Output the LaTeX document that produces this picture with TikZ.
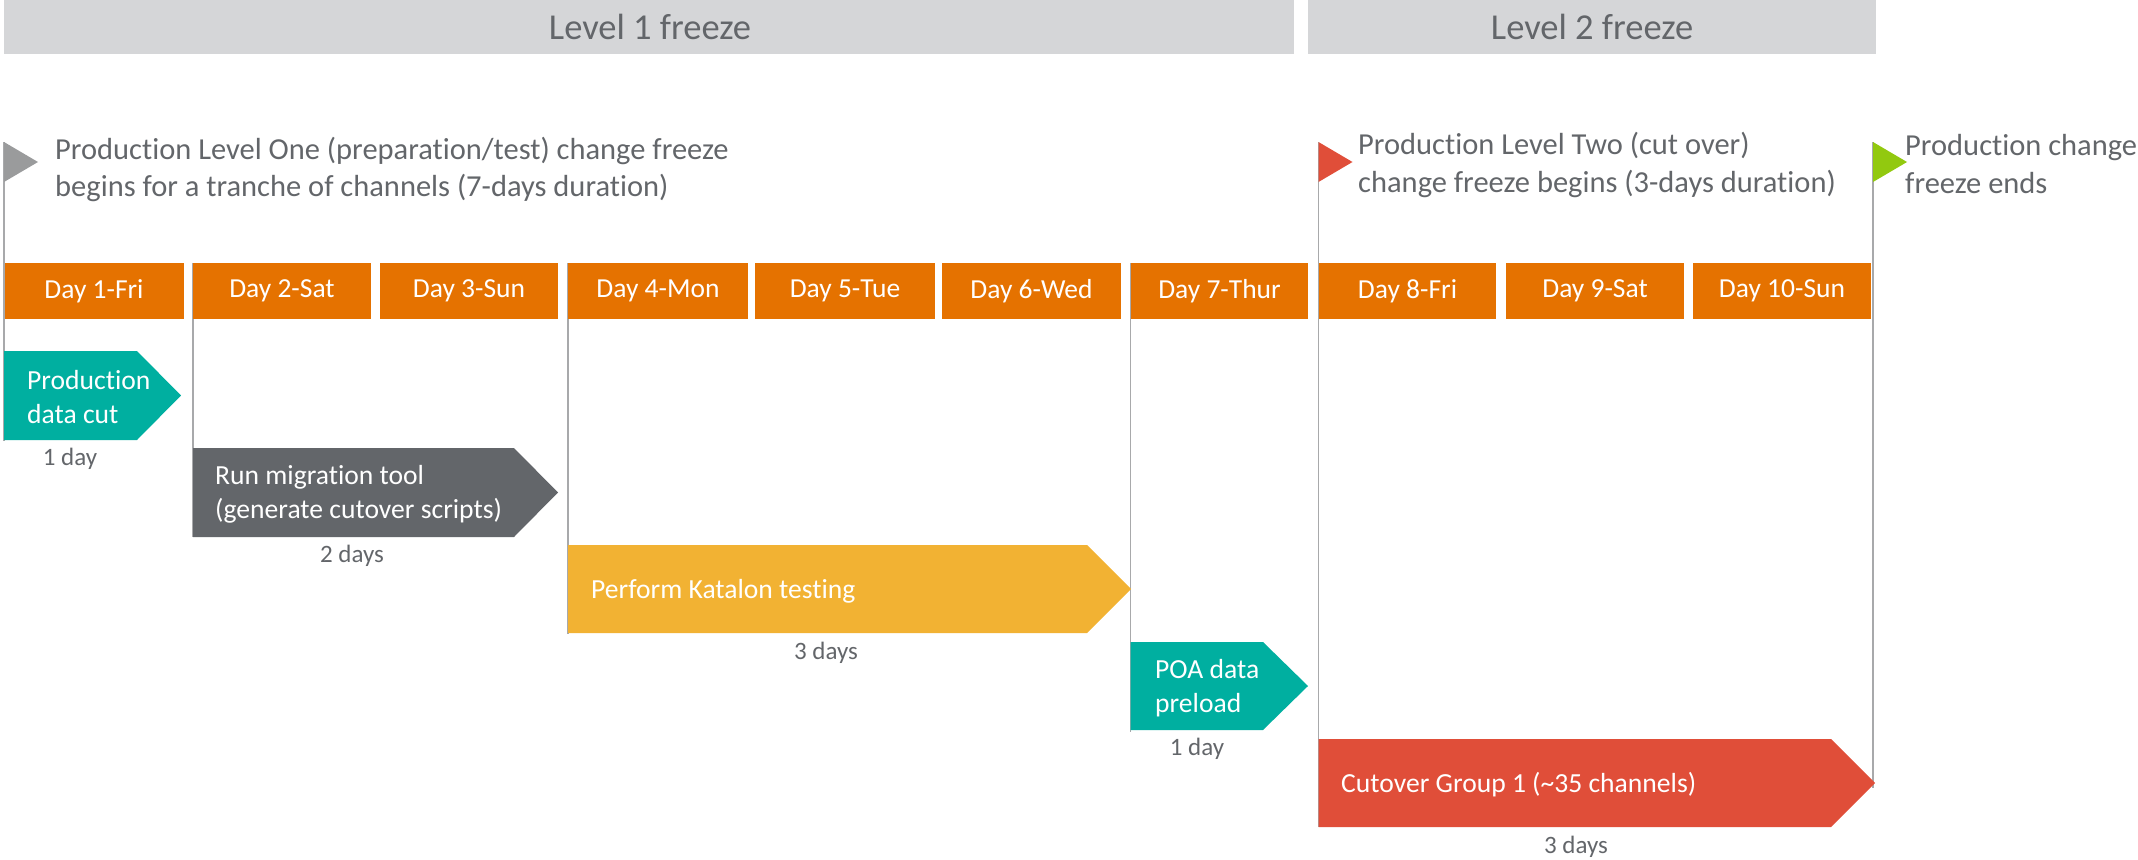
\documentclass[tikz,border=0pt]{standalone}
\usepackage{fontspec}
\setmainfont[Ligatures=CommonOff]{Carlito}
\definecolor{txt}{HTML}{63666A}
\definecolor{bar}{HTML}{D5D6D8}
\definecolor{orng}{HTML}{E57200}
\definecolor{teal2}{HTML}{00AFA0}
\definecolor{yell}{HTML}{F2B233}
\definecolor{redd}{HTML}{E04E39}
\definecolor{grn}{HTML}{92C90F}
\definecolor{flg}{HTML}{9A9B9C}
\definecolor{rule}{HTML}{A8A9AB}
\newcommand{\fs}[2]{\fontsize{#1}{#2}\selectfont}
\newcommand{\chev}[7]{% colour, x0, shoulder, tip, ytop, ybottom, name
  \fill[#1] (#2,#5) -- (#3,#5) -- (#4,{(#5+#6)/2}) -- (#3,#6) -- (#2,#6) -- cycle;
  \coordinate (#7) at (#2,#6);}
\newcommand{\flagshape}[3]{\fill[#1] (#2,142) -- (#2+34,162) -- (#2,182) -- cycle; \coordinate (#3) at (#2,142);}
\tikzset{
  x=1pt,y=-1pt,
  band/.style={fill=bar,draw=none,text=txt,inner sep=0pt,font=\fs{36.5}{44}},
  daybox/.style={fill=orng,draw=none,text=white,inner sep=0pt,font=\fs{27.5}{33}},
  lead/.style={anchor=west,align=left,text=txt,inner sep=0pt,font=\fs{30.5}{37.5}},
  inchev/.style={anchor=west,align=left,text=white,inner sep=0pt,font=\fs{27.6}{34}},
  dur/.style={anchor=center,text=txt,inner sep=0pt,font=\fs{25}{30}},
  stem/.style={draw=rule,line width=1.6pt},
}
\begin{document}
\begin{tikzpicture}
\useasboundingbox (0,0) rectangle (2138,859);
% bands
\node[band,minimum width=1290,minimum height=54] (l1) at (649,27) {\hspace{2pt}Level 1 freeze};
\node[band,minimum width=568,minimum height=54] (l2) at (1592,27) {Level 2 freeze};
% end points of the stems
\coordinate (s1) at (4,142);
\coordinate (s2) at (193,263);
\coordinate (s3) at (568,263);
\coordinate (s4) at (1130.5,263);
\coordinate (s5) at (1318.5,142);
\coordinate (s6) at (1873,142);
\coordinate (e1) at (4,441);
\coordinate (e2) at (193,537);
\coordinate (e3) at (568,634);
\coordinate (e4) at (1130.5,732);
\coordinate (e5) at (1318.5,827);
\coordinate (e6) at (1873,788);
\draw[stem] (s1) -- (e1);
\draw[stem] (s2) -- (e2);
\draw[stem] (s3) -- (e3);
\draw[stem] (s4) -- (e4);
\draw[stem] (s5) -- (e5);
\draw[stem] (s6) -- (e6);
% flags
\flagshape{flg}{4}{f1}
\flagshape{redd}{1318.5}{f2}
\flagshape{grn}{1873}{f3}
\node[lead] (t1) at (55,169.5) {Production Level One (preparation/test) change freeze\\begins for a tranche of channels (7-days duration)};
\node[lead] (t2) at (1358,165) {Production Level Two (cut over)\\change freeze begins (3-days duration)};
\node[lead] (t3) at (1905,164) {Production change\\freeze ends};
% days
\node[daybox,minimum width=179,minimum height=56] (d1) at (94,291) {Day 1-Fri};
\node[daybox,minimum width=178,minimum height=56] (d2) at (282,291) {Day 2-Sat};
\node[daybox,minimum width=178,minimum height=56] (d3) at (469,291) {Day 3-Sun};
\node[daybox,minimum width=180,minimum height=56] (d4) at (658,291) {Day 4-Mon};
\node[daybox,minimum width=180,minimum height=56] (d5) at (845,291) {Day 5-Tue};
\node[daybox,minimum width=179,minimum height=56] (d6) at (1031.5,291) {Day 6-Wed};
\node[daybox,minimum width=177,minimum height=56] (d7) at (1219.5,291) {Day 7-Thur};
\node[daybox,minimum width=177,minimum height=56] (d8) at (1407.5,291) {Day 8-Fri};
\node[daybox,minimum width=178,minimum height=56] (d9) at (1595,291) {Day 9-Sat};
\node[daybox,minimum width=178,minimum height=56] (d10) at (1782,291) {Day 10-Sun};
% chevrons
\chev{teal2}{4}{137}{181}{351}{440}{c1}
\chev{txt}{193}{514}{558}{448}{537}{c2}
\chev{yell}{568}{1087}{1131}{545}{633}{c3}
\chev{teal2}{1130.5}{1263}{1308}{642}{730}{c4}
\chev{redd}{1318.5}{1831}{1875}{739}{827}{c5}
\node[inchev] (a1) at (27,397) {Production\\data cut};
\node[inchev] (a2) at (215,494.5) {Run migration tool\\(generate cutover scripts)};
\node[inchev] (a3) at (591,591) {Perform Katalon testing};
\node[inchev] (a4) at (1155,688) {POA data\\preload};
\node[inchev] (a5) at (1341,785) {Cutover Group 1 (\textasciitilde 35 channels)};
\node[dur] (b1) at (70,459) {1 day};
\node[dur] (b2) at (352,556) {2 days};
\node[dur] (b3) at (826,653) {3 days};
\node[dur] (b4) at (1197,749) {1 day};
\node[dur] (b5) at (1576,847) {3 days};
\end{tikzpicture}
\end{document}
